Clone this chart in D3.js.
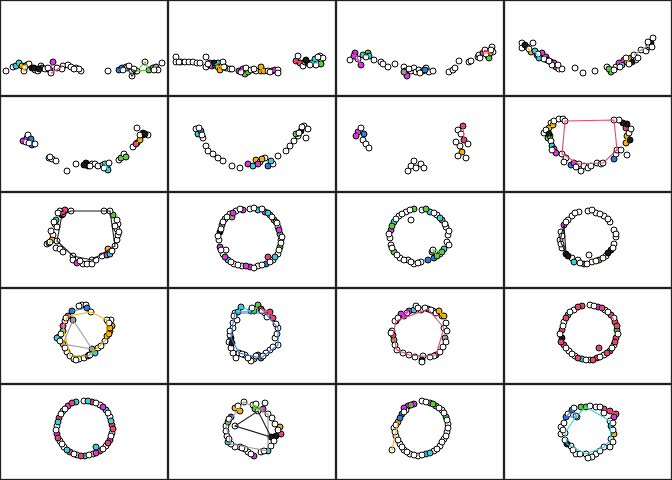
<!DOCTYPE html>
<html>
<head>
<meta charset="utf-8">
<script src="https://cdn.jsdelivr.net/npm/d3@7"></script>
<style>
  body { margin: 0; background: #fff; }
  svg { display: block; }
</style>
</head>
<body>
<svg id="chart" width="672" height="480"></svg>
<script>
// each point: [x, y, fill group, hull id]  (hull colour = first letter of the id)
var panel01 = [[-7.8,-2.3,'',''],[-7.1,-1.9,'',''],[-6.8,-1.8,'c','c'],[-6.5,-1.5,'c','c'],[-6.2,-1.8,'o','o'],[-6.0,-2.3,'','o'],[-5.7,-1.7,'o','o'],[-5.5,-1.6,'',''],[-5.2,-2.0,'k',''],[-4.9,-2.2,'',''],[-4.6,-2.3,'',''],[-4.3,-1.8,'',''],[-4.2,-2.0,'r',''],[-3.9,-2.1,'',''],[-3.4,-2.2,'m','m'],[-3.1,-1.4,'m','m'],[-3.3,-2.5,'','r'],[-2.1,-1.8,'','r'],[-2.2,-2.1,'',''],[-1.6,-1.7,'',''],[-1.3,-1.9,'',''],[-0.8,-2.0,'',''],[-0.3,-2.3,'',''],[-0.5,-2.1,'',''],[2.4,-2.3,'',''],[3.5,-2.2,'b','b'],[3.8,-2.0,'b','b'],[4.2,-1.9,'',''],[4.3,-2.0,'','k'],[4.8,-2.8,'','k'],[5.2,-2.3,'','k'],[5.3,-2.3,'','g'],[6.1,-1.4,'','g'],[6.5,-2.2,'g','g'],[6.9,-2.0,'y','y'],[7.2,-1.9,'y','y'],[7.4,-2.2,'',''],[7.8,-1.5,'',''],
  [-5.0,-2.0,'k',''],[-4.5,-2.1,'k',''],[-5.9,-1.9,'',''],[-3.6,-2.0,'',''],[-2.7,-2.0,'',''],[-1.0,-2.1,'',''],[4.5,-1.8,'',''],[5.0,-2.1,'',''],[7.0,-2.2,'',''],[3.9,-2.2,'','']];
var panel02 = [[-7.6,-0.9,'',''],[-7.6,-1.4,'',''],[-7.1,-1.4,'',''],[-6.7,-1.4,'',''],[-6.3,-1.4,'',''],[-5.9,-1.4,'',''],[-5.5,-1.5,'',''],[-5.2,-1.5,'',''],[-4.6,-0.9,'',''],[-4.6,-1.9,'',''],[-4.2,-1.7,'k',''],[-4.2,-1.5,'m','m1'],[-4.0,-1.8,'m','m1'],[-3.7,-1.7,'c','c1'],[-3.4,-1.5,'c','c1'],[-3.4,-1.9,'o','o1'],[-3.2,-2.2,'o','o1'],[-3.0,-1.8,'o','o1'],[-2.9,-1.4,'',''],[-2.6,-2.0,'',''],[-2.2,-2.1,'',''],[-2.0,-2.1,'',''],[-1.3,-2.3,'m','m2'],[-0.9,-2.1,'m','m2'],[-0.7,-2.6,'g','g1'],[-0.4,-2.4,'g','g1'],[-0.6,-2.0,'',''],[-0.1,-2.2,'',''],[0.4,-2.3,'',''],[0.9,-2.3,'o','o2'],[0.9,-1.9,'o','o2'],[1.2,-2.3,'o','o2'],[1.6,-2.3,'',''],[2.0,-2.3,'m','m3'],[2.3,-2.2,'m','m3'],[2.6,-2.2,'',''],[2.6,-2.5,'',''],[4.4,-1.3,'r','r'],[4.6,-0.8,'',''],[4.8,-1.5,'r','r'],[5.1,-1.8,'',''],[5.3,-1.4,'o',''],[5.6,-1.5,'k',''],[6.0,-1.5,'c','c2'],[6.3,-1.1,'c','c2'],[6.6,-1.5,'c','c2'],[6.8,-0.8,'',''],[6.9,-1.2,'g','g2'],[6.9,-1.6,'g','g2'],[6.4,-1.7,'',''],[7.1,-1.0,'',''],
  [-7.3,-1.4,'',''],[-4.4,-1.6,'',''],[-3.8,-1.5,'k',''],[-2.8,-1.9,'',''],[-1.1,-2.4,'',''],[0.2,-2.1,'',''],[1.8,-2.4,'',''],[5.4,-1.2,'k',''],[5.8,-1.7,'',''],[6.6,-0.9,'','']];
var panel03 = [[-7.0,-1.2,'',''],[-6.5,-0.5,'m','m1'],[-5.9,-1.7,'m','m1'],[-6.6,-0.8,'m','m1'],[-5.7,-0.7,'c','c'],[-5.2,-0.5,'g',''],[-5.1,-0.8,'c','c'],[-4.6,-1.2,'',''],[-3.9,-1.4,'',''],[-3.7,-1.6,'',''],[-3.2,-1.9,'',''],[-2.5,-1.6,'',''],[-1.6,-1.9,'',''],[-1.5,-2.3,'m','m2'],[-1.3,-2.8,'m','m2'],[-1.6,-2.4,'y',''],[-0.9,-2.3,'',''],[-0.6,-2.0,'',''],[-0.4,-2.4,'',''],[-0.1,-2.2,'',''],[0.3,-2.3,'b',''],[0.6,-2.0,'',''],[0.9,-2.4,'',''],[1.3,-2.3,'',''],[2.9,-2.4,'',''],[3.3,-2.2,'',''],[3.5,-2.0,'',''],[3.9,-1.3,'',''],[4.9,-1.4,'',''],[5.1,-1.3,'',''],[5.8,-0.9,'',''],[5.9,-0.7,'',''],[6.3,-0.5,'r','r'],[6.5,-0.2,'','r'],[6.8,-0.8,'g','g'],[6.9,-1.0,'g','g'],[7.2,0.1,'',''],[7.3,-0.4,'',''],[7.0,-0.5,'o','r'],
  [-6.2,-1.1,'',''],[-5.4,-0.9,'',''],[-1.1,-2.1,'',''],[0.0,-2.5,'',''],[0.5,-2.2,'b',''],[6.0,-1.0,'',''],[6.6,-0.6,'',''],[7.1,-0.2,'','']];
var panel04 = [[-6.6,0.5,'',''],[-6.6,0.0,'',''],[-6.1,0.1,'o','o1'],[-5.5,0.5,'',''],[-5.7,-0.4,'o','o1'],[-5.3,-0.3,'c','c'],[-5.1,-0.7,'b',''],[-4.9,-1.0,'c','c'],[-4.6,-0.5,'m','m1'],[-4.2,-0.9,'m','m1'],[-4.1,-1.2,'k',''],[-3.7,-1.4,'k',''],[-3.4,-1.5,'m',''],[-3.2,-1.9,'r',''],[-2.9,-2.1,'',''],[-2.6,-2.1,'',''],[-3.6,-1.7,'',''],[-1.3,-2.0,'',''],[-0.5,-2.5,'',''],[0.7,-2.3,'',''],[1.9,-1.9,'',''],[2.3,-2.4,'g','g'],[2.1,-2.1,'g','g'],[2.8,-1.9,'',''],[3.1,-1.5,'m','m2'],[3.4,-1.7,'c',''],[3.6,-1.2,'r','m2'],[3.9,-1.4,'o','o2'],[4.3,-1.0,'o','o2'],[4.6,-0.9,'',''],[4.8,-1.2,'',''],[4.4,-1.4,'k',''],[4.6,-0.7,'','y'],[5.3,-0.2,'','y'],[5.8,-0.3,'',''],[6.1,0.1,'c',''],[6.1,0.3,'','y'],[6.3,0.5,'k',''],[6.5,1.0,'',''],[6.4,0.1,'',''],
  [-6.3,0.3,'k',''],[-5.9,-0.1,'',''],[-5.0,-0.6,'',''],[-4.4,-1.1,'',''],[-3.9,-1.3,'',''],[-3.0,-1.7,'',''],[2.6,-2.2,'',''],[3.2,-1.9,'',''],[3.8,-1.0,'',''],[4.1,-1.6,'',''],[5.0,-1.0,'',''],[6.0,0.6,'','']];
var panel05 = [[-6.1,0.3,'m','m'],[-5.7,0.6,'m','m'],[-5.6,0.9,'',''],[-5.3,0.5,'b','b'],[-5.2,-0.1,'b','b'],[-4.9,0.0,'',''],[-3.5,-1.4,'',''],[-3.2,-1.5,'',''],[-2.8,-1.7,'',''],[-1.7,-2.7,'',''],[-0.8,-2.0,'',''],[0.2,-1.9,'k',''],[0.4,-2.2,'k',''],[0.8,-2.0,'',''],[1.1,-2.0,'',''],[1.4,-2.2,'',''],[1.9,-2.1,'',''],[2.3,-2.3,'c','c'],[2.1,-2.0,'c','c'],[2.5,-1.9,'',''],[2.4,-2.6,'c','c'],[3.5,-1.6,'',''],[3.7,-1.4,'g','g'],[4.0,-1.0,'',''],[4.2,-1.3,'g','g'],[4.9,-0.3,'',''],[5.3,0.1,'o','o'],[5.6,0.4,'o','o'],[5.3,1.6,'',''],[5.9,0.9,'k',''],[5.9,1.1,'k',''],[6.4,0.9,'',''],[5.2,0.0,'r',''],
  [-5.8,0.2,'',''],[-5.5,0.1,'',''],[-3.4,-1.3,'',''],[0.0,-2.1,'k',''],[0.6,-2.2,'',''],[2.0,-2.4,'',''],[5.6,0.9,'',''],[6.1,1.0,'k','']];
var panel06 = [[-5.6,1.5,'',''],[-5.4,1.0,'c',''],[-5.1,1.3,'b',''],[-4.9,0.6,'',''],[-4.6,-0.2,'',''],[-4.4,-0.7,'',''],[-3.9,-1.0,'',''],[-3.4,-1.4,'',''],[-2.9,-1.7,'',''],[-2.0,-2.2,'',''],[-1.2,-2.4,'',''],[-0.4,-2.0,'m',''],[0.1,-2.2,'c',''],[0.4,-1.6,'o',''],[0.8,-1.8,'',''],[1.3,-1.4,'',''],[1.6,-2.2,'b',''],[2.1,-2.0,'',''],[2.6,-1.2,'',''],[3.4,-0.7,'',''],[3.8,-0.2,'',''],[4.2,0.3,'',''],[4.6,0.8,'',''],[4.9,1.3,'k',''],[5.2,1.8,'',''],[4.4,1.0,'g',''],[5.4,0.6,'',''],[5.6,1.5,'',''],
  [-5.3,1.6,'',''],[-5.0,0.9,'',''],[0.6,-2.0,'m',''],[1.0,-1.5,'o',''],[1.9,-1.7,'c',''],[4.7,1.1,'',''],[5.0,1.7,'','']];
var panel07 = [[-6.2,1.2,'m','m'],[-5.9,1.6,'',''],[-6.4,0.8,'m','m'],[-5.7,0.4,'',''],[-5.4,0.0,'',''],[-5.1,-0.4,'',''],[-5.6,1.0,'b',''],[-1.2,-2.7,'',''],[-0.9,-2.2,'',''],[-0.4,-2.4,'',''],[0.1,-2.0,'',''],[0.4,-2.4,'',''],[-0.6,-1.7,'',''],[3.8,1.4,'',''],[4.3,1.8,'r','r'],[4.1,1.0,'',''],[4.4,0.4,'r','r'],[4.0,-0.2,'',''],[4.2,-0.8,'o',''],[3.8,-1.2,'',''],[4.6,-1.4,'',''],[4.8,0.0,'',''],[3.6,0.2,'','']];
var panel08 = [[-3.7,2.1,'',''],[-3.9,1.6,'o','o1'],[-3.5,1.9,'o','o1'],[-3.4,2.3,'',''],[-2.9,2.5,'',''],[-2.5,2.5,'',''],[-2.3,2.3,'','r'],[-4.4,1.1,'',''],[-4.0,0.6,'g','g'],[-3.8,0.8,'g','g'],[-3.7,0.3,'',''],[-3.6,-0.2,'c','c'],[-3.4,-0.5,'m','m'],[-3.2,-0.9,'m','m'],[-2.6,-1.0,'','r'],[-2.2,-1.4,'',''],[-1.7,-2.1,'b',''],[-1.4,-1.9,'m',''],[-0.9,-2.0,'','r'],[-0.7,-2.7,'',''],[-0.4,-2.2,'',''],[0.0,-2.4,'',''],[0.3,-2.2,'',''],[0.9,-1.9,'',''],[1.3,-2.0,'',''],[1.5,-1.9,'','r'],[2.6,-1.5,'b',''],[2.8,-1.0,'',''],[2.9,-0.6,'','r'],[3.3,-0.6,'',''],[3.9,-1.1,'',''],[3.8,0.1,'o','o2'],[3.9,0.8,'o','o2'],[4.1,1.1,'',''],[3.8,1.6,'r',''],[3.9,2.0,'k',''],[3.5,2.1,'k',''],[3.1,2.4,'',''],[2.6,2.4,'','r'],
  [-4.2,1.4,'',''],[-3.9,1.0,'k',''],[-3.6,-0.6,'',''],[-2.4,-1.8,'',''],[-1.2,-2.3,'',''],[4.3,1.5,'',''],[4.2,0.4,'k','']];
var panel09 = [[-2.4,2.9,'',''],[-1.9,3.0,'r','r'],[-1.3,2.9,'','k'],[-2.2,2.5,'k','k'],[-2.1,2.6,'r','r'],[-2.8,2.0,'c',''],[-2.9,1.6,'',''],[-2.7,1.3,'',''],[-3.1,0.5,'',''],[-3.2,0.0,'o','o1'],[-3.7,-0.4,'',''],[-3.5,-0.3,'o','o1'],[-2.7,-0.1,'','k'],[-2.8,-0.8,'',''],[-2.4,-0.9,'',''],[-1.1,-1.6,'','k'],[-1.1,-2.0,'',''],[-0.7,-2.3,'m',''],[-0.1,-2.4,'',''],[0.3,-2.4,'',''],[0.8,-2.0,'','k'],[0.8,-2.4,'',''],[1.8,-1.6,'',''],[2.3,-1.5,'m','m'],[2.6,-1.4,'c','c'],[2.4,-0.9,'o','o2'],[2.8,-1.1,'',''],[3.1,-0.6,'','k'],[3.3,0.0,'',''],[3.4,0.5,'',''],[3.3,1.1,'',''],[3.4,1.6,'',''],[3.3,2.0,'',''],[2.9,2.5,'g',''],[2.6,2.9,'','k'],
  [-2.6,2.7,'',''],[-3.0,1.8,'',''],[-3.3,0.9,'',''],[-3.4,-0.2,'',''],[-2.1,-1.2,'',''],[-0.4,-2.1,'',''],[1.2,-2.0,'',''],[3.1,1.4,'',''],[3.5,0.8,'',''],[2.0,2.9,'','']];
var panel10 = [[-2.2,2.6,'',''],[-1.6,2.9,'',''],[-0.9,3.0,'m',''],[-0.2,3.1,'',''],[0.6,3.0,'c',''],[1.3,2.8,'m',''],[1.8,2.5,'',''],[2.2,2.0,'o',''],[2.6,1.3,'',''],[2.8,0.6,'c',''],[2.9,0.0,'',''],[2.8,-0.7,'g',''],[2.6,-1.4,'',''],[2.1,-2.0,'',''],[1.4,-2.4,'b',''],[0.6,-2.6,'',''],[-0.2,-2.7,'m',''],[-1.0,-2.6,'',''],[-1.8,-2.4,'',''],[-2.4,-2.0,'c',''],[-2.9,-1.4,'',''],[-3.2,-0.7,'m',''],[-3.3,0.0,'',''],[-3.2,0.8,'k',''],[-3.0,1.5,'g',''],[-2.7,2.1,'',''],[-2.0,2.3,'y',''],[1.6,-1.7,'r',''],[-2.6,-1.0,'',''],[2.4,1.8,'',''],
  [-2.5,2.3,'',''],[-1.9,2.7,'m',''],[-1.2,3.1,'',''],[0.2,3.2,'',''],[1.0,3.1,'',''],[1.6,2.7,'c',''],[2.0,2.3,'',''],[2.5,1.7,'',''],[2.7,1.0,'m',''],[3.0,0.3,'',''],[2.9,-0.3,'',''],[2.7,-1.0,'',''],[2.3,-1.7,'c',''],[1.8,-2.2,'',''],[1.0,-2.5,'',''],[0.2,-2.8,'',''],[-0.6,-2.6,'m',''],[-1.4,-2.5,'',''],[-2.1,-2.2,'',''],[-2.7,-1.7,'m',''],[-3.1,-1.0,'',''],[-3.4,0.4,'',''],[-3.1,1.1,'',''],[-2.9,1.8,'','']];
var panel11 = [[-1.4,2.8,'',''],[-0.6,3.1,'g',''],[0.2,3.0,'',''],[1.0,2.8,'c',''],[1.7,2.5,'',''],[2.2,2.0,'g',''],[2.6,1.3,'',''],[2.8,0.5,'',''],[2.7,-0.2,'',''],[2.4,-0.9,'c',''],[2.0,-1.4,'',''],[1.4,-1.8,'b','b'],[0.8,-2.0,'b','b'],[0.1,-2.2,'',''],[-0.6,-2.4,'',''],[-1.2,-2.0,'',''],[-2.0,-1.8,'',''],[-2.6,-1.2,'g',''],[-2.9,-0.5,'',''],[-3.0,0.2,'',''],[-2.9,1.0,'m',''],[-2.6,1.8,'c',''],[-2.1,2.4,'',''],[1.2,-1.2,'g',''],[-0.9,2.0,'',''],
  [-1.8,2.6,'',''],[-1.0,3.0,'',''],[0.6,3.1,'g',''],[1.4,2.7,'',''],[2.0,2.2,'c',''],[2.5,1.6,'',''],[2.9,0.9,'',''],[2.9,-0.5,'',''],[2.2,-1.2,'g','g'],[1.7,-1.6,'g','g'],[1.3,-1.0,'','g'],[-0.2,-2.3,'',''],[-0.9,-2.2,'',''],[-1.6,-2.0,'',''],[-2.3,-1.5,'',''],[-2.8,-0.8,'',''],[-3.1,0.6,'',''],[-2.8,1.4,'g',''],[-2.4,2.1,'','']];
var panel12 = [[-1.6,2.4,'',''],[-0.9,2.8,'',''],[0.0,2.9,'',''],[0.8,2.7,'',''],[1.6,2.4,'',''],[2.2,1.8,'',''],[2.6,1.0,'',''],[2.8,0.3,'',''],[2.6,-0.4,'',''],[2.3,-1.0,'k',''],[1.8,-1.6,'',''],[1.1,-2.0,'g',''],[0.4,-2.2,'',''],[-0.4,-2.4,'m',''],[-1.0,-2.0,'',''],[-1.6,-1.8,'',''],[-2.2,-1.4,'k','k'],[-2.6,-0.8,'',''],[-2.8,0.0,'','k'],[-2.7,0.8,'',''],[-2.4,1.5,'m','k'],[-2.0,2.0,'',''],[-1.4,-2.2,'c',''],[0.1,-1.5,'',''],
  [-1.3,2.7,'',''],[0.4,3.0,'',''],[1.2,2.6,'',''],[2.0,2.1,'',''],[2.8,0.6,'',''],[2.5,-0.8,'',''],[2.0,-1.3,'k',''],[1.5,-1.8,'',''],[0.8,-2.1,'',''],[-0.1,-2.4,'',''],[-0.8,-2.3,'',''],[-2.0,-1.6,'k',''],[-2.7,-0.4,'',''],[-2.6,0.4,'',''],[-2.2,1.8,'','']];
var panel13 = [[-1.2,2.5,'b','b'],[-0.2,3.1,'',''],[0.2,3.1,'',''],[0.3,2.8,'b','b'],[0.7,2.4,'','o'],[-1.6,2.0,'r','o'],[-1.9,1.5,'',''],[-2.1,1.0,'m','o'],[-2.1,0.5,'g',''],[-2.5,-0.1,'c','c1'],[-2.7,-0.2,'c','c1'],[-2.1,-0.8,'o','y'],[-1.7,-1.6,'',''],[-1.4,-2.0,'','o'],[-1.0,-2.3,'',''],[-0.5,-2.3,'',''],[0.0,-2.2,'',''],[0.4,-2.0,'c','o'],[1.1,-1.7,'c','c2'],[0.5,-1.9,'c','c2'],[0.8,-1.3,'y','y'],[1.4,-1.2,'',''],[2.1,-0.5,'','o'],[2.3,0.0,'o','o'],[2.6,0.5,'o',''],[2.8,1.0,'o',''],[2.4,1.5,'b',''],[2.7,1.6,'',''],[2.3,1.6,'','o'],[-1.1,1.6,'y','y'],
  [-1.8,1.8,'',''],[-2.3,0.2,'',''],[-2.4,-0.5,'',''],[-1.9,-1.2,'',''],[-0.8,-2.4,'',''],[0.6,-1.9,'',''],[1.7,-1.0,'',''],[2.5,0.2,'o',''],[2.6,0.8,'o',''],[2.5,1.3,'',''],[-0.5,3.0,'','']];
var panel14 = [[-1.1,2.9,'c','c'],[-1.7,2.3,'','b'],[-1.4,2.4,'c','c'],[-0.1,2.5,'c','c'],[0.2,2.5,'g','g'],[0.6,3.1,'g','g'],[0.9,2.7,'r','r'],[1.3,2.3,'','b'],[1.6,2.1,'',''],[1.8,2.4,'r','r'],[2.1,1.8,'r','r'],[2.6,0.8,'','b'],[2.3,-0.2,'',''],[2.6,-0.9,'','b'],[1.8,-1.4,'',''],[1.4,-1.7,'',''],[0.9,-2.2,'b','b'],[0.6,-1.9,'m',''],[0.2,-2.3,'o',''],[-0.1,-2.5,'',''],[-0.7,-1.9,'',''],[-1.3,-1.7,'','b'],[-1.9,-1.7,'',''],[-2.1,-1.2,'',''],[-2.1,-0.2,'k','b'],[-2.2,0.1,'',''],[-1.9,0.8,'',''],[-1.9,1.3,'','b'],[-1.5,1.6,'',''],[-1.6,-2.2,'',''],
  [-1.8,2.0,'',''],[0.0,2.8,'',''],[1.0,2.5,'',''],[1.5,1.9,'',''],[2.4,1.2,'',''],[2.5,0.2,'',''],[2.1,-1.1,'',''],[1.1,-2.0,'',''],[0.4,-2.0,'',''],[-0.4,-2.2,'',''],[-1.0,-1.8,'',''],[-2.3,-0.6,'',''],[-2.0,-0.7,'k',''],[-2.2,0.5,'','']];
var panel15 = [[-1.9,2.2,'m','m'],[-2.4,1.5,'','r'],[-1.6,2.0,'m','m'],[-1.1,2.5,'m','m'],[-0.6,2.6,'c',''],[-0.4,3.0,'',''],[0.1,2.6,'',''],[0.8,2.7,'c','r'],[1.3,2.5,'',''],[1.6,2.3,'',''],[1.9,2.5,'o','o'],[2.2,2.0,'o','o'],[2.4,2.0,'o','o'],[2.4,0.8,'','r'],[2.7,0.5,'',''],[2.5,-0.2,'y',''],[2.3,-1.1,'',''],[1.6,-1.9,'b','r'],[1.4,-2.0,'',''],[0.3,-2.0,'','r'],[0.2,-2.4,'k',''],[-1.1,-1.9,'','r'],[-2.3,-1.4,'','r'],[-2.6,-0.4,'g',''],[-2.7,0.1,'r','r'],[-2.8,0.5,'',''],[-2.5,1.5,'',''],
  [-2.2,1.8,'',''],[-1.3,2.3,'',''],[-0.2,2.8,'',''],[0.5,2.8,'',''],[1.1,2.6,'',''],[2.6,1.3,'',''],[2.6,-0.6,'',''],[2.0,-1.6,'',''],[1.0,-2.1,'',''],[0.2,-2.6,'',''],[-0.5,-2.1,'',''],[-1.7,-1.7,'',''],[-2.5,-0.9,'',''],[-2.9,0.3,'','']];
var panel16 = [[-1.4,2.6,'',''],[-0.6,3.0,'r',''],[0.2,3.1,'',''],[1.0,2.9,'m',''],[1.7,2.6,'',''],[2.3,2.1,'r','r'],[2.7,1.4,'r','r'],[2.9,0.6,'g',''],[2.8,-0.2,'r',''],[2.6,-0.9,'',''],[2.2,-1.5,'m',''],[1.6,-1.9,'',''],[0.9,-2.2,'r',''],[0.2,-2.4,'',''],[-0.6,-2.3,'c',''],[-1.3,-2.0,'',''],[-1.9,-1.5,'',''],[-2.4,-0.9,'r',''],[-2.6,-0.2,'k',''],[-2.6,0.6,'r',''],[-2.4,1.4,'',''],[-2.0,2.1,'g',''],[1.1,-1.2,'r',''],
  [-1.8,2.4,'',''],[-1.0,2.9,'r',''],[0.6,3.0,'',''],[1.4,2.8,'r',''],[2.0,2.4,'',''],[2.6,1.8,'',''],[2.9,1.0,'r',''],[3.0,0.2,'',''],[2.7,-0.6,'r',''],[2.4,-1.2,'',''],[1.9,-1.7,'r',''],[1.2,-2.1,'',''],[0.5,-2.4,'r',''],[-0.2,-2.4,'',''],[-1.0,-2.2,'r',''],[-1.6,-1.8,'',''],[-2.2,-1.2,'',''],[-2.7,-0.6,'r',''],[-2.8,0.2,'',''],[-2.5,1.0,'',''],[-2.2,1.8,'r','']];
var panel17 = [[-1.6,2.6,'m',''],[-0.8,3.0,'c',''],[0.0,3.1,'',''],[0.8,3.0,'r',''],[1.6,2.7,'',''],[2.2,2.2,'c',''],[2.6,1.5,'',''],[2.8,0.7,'r',''],[2.8,-0.1,'',''],[2.6,-0.8,'m',''],[2.2,-1.4,'',''],[1.6,-1.9,'r',''],[0.9,-2.2,'',''],[0.1,-2.4,'c',''],[-0.7,-2.3,'',''],[-1.4,-2.0,'r',''],[-2.0,-1.5,'',''],[-2.4,-0.9,'',''],[-2.7,-0.2,'m',''],[-2.7,0.6,'',''],[-2.5,1.4,'r',''],[-2.1,2.1,'',''],[1.2,-1.5,'c',''],
  [-1.9,2.3,'',''],[-1.2,2.9,'r',''],[0.4,3.1,'c',''],[1.2,2.9,'',''],[1.9,2.5,'m',''],[2.4,1.9,'',''],[2.7,1.1,'c',''],[2.9,0.3,'r',''],[2.7,-0.4,'',''],[2.4,-1.1,'r',''],[1.9,-1.7,'',''],[1.2,-2.1,'m',''],[0.5,-2.3,'',''],[-0.3,-2.4,'r',''],[-1.0,-2.2,'',''],[-1.7,-1.8,'c',''],[-2.2,-1.2,'',''],[-2.6,-0.6,'r',''],[-2.8,0.2,'',''],[-2.6,1.0,'c',''],[-2.3,1.8,'','']];
var panel18 = [[-0.8,3.0,'','y'],[-1.7,2.4,'o','o'],[-1.2,2.1,'o','o'],[0.1,2.7,'','g'],[0.3,2.3,'g','g'],[0.6,2.1,'','k'],[1.1,2.3,'m','g'],[1.3,2.9,'',''],[1.6,1.8,'','y'],[2.3,0.8,'',''],[2.8,0.5,'o',''],[2.9,-0.2,'r',''],[2.4,-0.4,'k',''],[1.9,-0.5,'k','k'],[1.9,-1.4,'',''],[1.6,-1.9,'c','y'],[0.9,-2.0,'',''],[0.2,-2.4,'m',''],[-0.4,-2.0,'',''],[-0.7,-1.7,'',''],[-1.2,-1.5,'',''],[-1.7,-1.5,'',''],[-2.1,-1.2,'','y'],[-2.4,-1.0,'c',''],[-2.5,-0.4,'',''],[-2.6,0.6,'','y'],[-2.4,1.0,'g',''],[-2.1,1.5,'b',''],[-1.7,0.6,'','k'],
  [-1.4,2.6,'',''],[0.4,2.8,'',''],[2.0,1.4,'',''],[2.6,0.2,'',''],[2.2,-0.9,'',''],[1.2,-1.9,'',''],[-0.1,-2.2,'',''],[-1.0,-1.6,'',''],[-2.3,-0.7,'',''],[-2.6,0.1,'',''],[-2.3,1.3,'','']];
var panel19 = [[-1.2,2.6,'m','m'],[-0.6,2.8,'m','m'],[0.2,3.1,'',''],[1.0,2.9,'y',''],[1.6,2.6,'g',''],[2.2,2.2,'',''],[2.6,1.5,'g',''],[2.8,0.8,'',''],[2.7,0.0,'',''],[2.4,-0.7,'',''],[2.0,-1.4,'',''],[1.4,-1.9,'',''],[0.6,-2.2,'c',''],[-0.2,-2.4,'',''],[-1.0,-2.2,'',''],[-1.6,-1.8,'',''],[-2.0,-1.2,'',''],[-2.4,-0.4,'',''],[-2.6,0.4,'',''],[-2.2,1.0,'o','o'],[-1.8,1.8,'b',''],[-1.4,2.2,'',''],[-2.8,-1.8,'','o'],
  [-1.6,2.4,'m',''],[-0.9,2.7,'g',''],[0.6,3.0,'',''],[1.3,2.8,'g',''],[1.9,2.4,'',''],[2.4,1.9,'',''],[2.7,1.2,'',''],[2.8,0.4,'',''],[2.6,-0.4,'',''],[2.2,-1.0,'',''],[1.7,-1.7,'',''],[1.0,-2.1,'c',''],[0.2,-2.3,'',''],[-0.6,-2.3,'',''],[-1.3,-2.0,'',''],[-1.8,-1.5,'',''],[-2.2,-0.8,'',''],[-2.5,0.0,'',''],[-2.4,0.7,'',''],[-2.0,1.4,'b',''],[-1.6,2.0,'','']];
var panel20 = [[-2.2,1.5,'b','b'],[-1.6,2.2,'b','b'],[-1.1,1.5,'','b'],[-0.7,2.5,'g','g'],[-0.2,2.5,'g','c'],[0.8,2.5,'',''],[1.6,2.3,'r','r'],[1.6,1.9,'',''],[2.2,2.1,'r','r'],[2.8,1.8,'r','r'],[2.6,1.5,'m',''],[2.2,1.1,'','c'],[2.3,0.6,'b',''],[2.6,-0.2,'o',''],[2.3,-0.7,'','c'],[2.2,-1.5,'',''],[1.6,-1.5,'','c'],[0.8,-2.2,'',''],[0.4,-2.5,'',''],[-0.2,-2.2,'','c'],[-1.2,-2.2,'',''],[-1.7,-1.4,'',''],[-2.1,-1.2,'k','c'],[-2.7,-0.2,'',''],[-2.7,0.5,'',''],[-2.4,0.9,'',''],[-2.3,-0.1,'','c'],[-1.2,1.6,'','c'],
  [-2.0,1.8,'',''],[-1.4,2.4,'',''],[0.2,2.6,'',''],[1.2,2.5,'',''],[2.5,0.9,'',''],[2.5,0.2,'',''],[2.5,-1.0,'',''],[1.2,-1.9,'',''],[0.0,-2.6,'',''],[-0.8,-2.2,'',''],[-1.5,-1.8,'',''],[-2.3,-0.8,'',''],[-2.5,0.2,'','']];

var panels = [panel01, panel02, panel03, panel04, panel05, panel06, panel07, panel08, panel09, panel10,
              panel11, panel12, panel13, panel14, panel15, panel16, panel17, panel18, panel19, panel20];

var groupColors = {
  m: '#d83ad8', c: '#38cfd8', o: '#f2b400', g: '#5ccc3c',
  r: '#e6486c', b: '#2f7cd6', k: '#1a1a1a', y: '#9c9c9c'
};

var W = 672, H = 480, nCol = 4, nRow = 5;
var pw = W / nCol, ph = H / nRow;

var x = d3.scaleLinear().domain([-8.4, 8.4]).range([0, pw]);
var y = d3.scaleLinear().domain([-4.8, 4.8]).range([ph, 0]);

var svg = d3.select('#chart');

panels.forEach(function(pts, i) {
    var g = svg.append('g')
        .attr('transform', 'translate(' + (i % nCol) * pw + ',' + Math.floor(i / nCol) * ph + ')');

    // points
    g.selectAll('circle')
        .data(pts)
      .enter().append('circle')
        .attr('cx', function(d) { return x(d[0]); })
        .attr('cy', function(d) { return y(d[1]); })
        .attr('r', 3)
        .style('fill', function(d) { return d[2] ? groupColors[d[2]] : '#fff'; })
        .style('stroke', '#000')
        .style('stroke-width', 1);

    // hulls drawn over the points
    var groups = d3.group(pts.filter(function(d) { return d[3]; }), function(d) { return d[3]; });
    groups.forEach(function(members, key) {
        var xy = members.map(function(d) { return [x(d[0]), y(d[1])]; });
        var hull = xy.length > 2 ? d3.polygonHull(xy) : null;
        var path = hull ? 'M' + hull.join('L') + 'Z' : 'M' + xy.join('L');
        g.append('path')
            .attr('d', path)
            .style('fill', 'none')
            .style('stroke', groupColors[key[0]])
            .style('stroke-width', 1.1);
    });

    g.append('rect')
        .attr('x', 0.5).attr('y', 0.5)
        .attr('width', pw - 1).attr('height', ph - 1)
        .style('fill', 'none')
        .style('stroke', '#222')
        .style('stroke-width', 1.3);
});
</script>
</body>
</html>
